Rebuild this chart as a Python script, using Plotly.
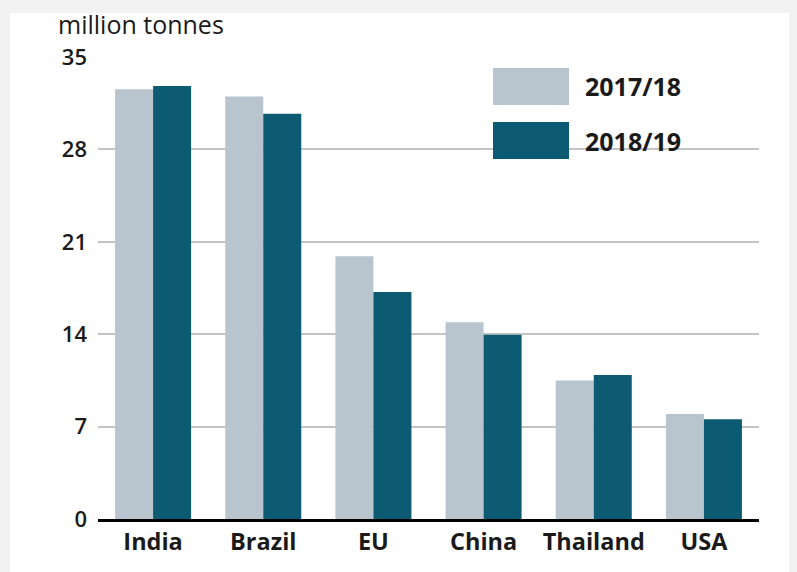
import plotly.graph_objects as go

categories = ["India", "Brazil", "EU", "China", "Thailand", "USA"]
series_names = ["2017/18", "2018/19"]
values_2017_18 = [32.55, 32.0, 19.9, 14.9, 10.5, 7.95]
values_2018_19 = [32.8, 30.7, 17.2, 13.95, 10.9, 7.55]
y_ticks = [0, 7, 14, 21, 28, 35]
colors = ["#b8c5ce", "#0d5b72"]

OFF = 8  # page body margin offset
W, H = 797, 572
# target plot area in screen pixels: x 98..759, y 57..519
L = 98 - OFF
T = 57 - OFF
R = W - (759 - OFF)
B = H - (519 - OFF)
pw, ph = W - L - R, H - T - B

def fx(px):
    return (px - OFF - L) / pw

def fy(py):
    return (H - B - (py - OFF)) / ph

font_main = "Open Sans"
txt = "#1a1a1a"

fig = go.Figure()
for name, vals, col in zip(series_names, [values_2017_18, values_2018_19], colors):
    fig.add_trace(go.Bar(x=categories, y=vals, name=name, marker=dict(color=col, line=dict(width=0)),
                         showlegend=False))

shapes = [
    dict(type="rect", xref="paper", yref="paper", x0=fx(10), x1=fx(W + 20), y0=fy(H + 20), y1=fy(13),
         fillcolor="white", line=dict(width=0), layer="below"),
]
annotations = [
    dict(text="million tonnes", xref="paper", yref="paper", x=fx(56), y=fy(24), xanchor="left",
         yanchor="middle", showarrow=False, font=dict(family=font_main, size=25, color=txt)),
]
legend_boxes = [(68, 105), (122, 159)]
for (y0, y1), name, col in zip(legend_boxes, series_names, colors):
    shapes.append(dict(type="rect", xref="paper", yref="paper", x0=fx(493), x1=fx(569), y0=fy(y1), y1=fy(y0),
                       fillcolor=col, line=dict(width=0), layer="above"))
    annotations.append(dict(text=name, xref="paper", yref="paper", x=fx(583), y=fy((y0 + y1) / 2),
                            xanchor="left", yanchor="middle", showarrow=False,
                            font=dict(family=font_main, size=25, color=txt, weight="bold")))

fig.update_layout(
    width=W, height=H,
    margin=dict(l=L, r=R, t=T, b=B, pad=0),
    paper_bgcolor="#f2f2f2",
    plot_bgcolor="white",
    barmode="group",
    bargap=0.31,
    bargroupgap=0,
    shapes=shapes,
    annotations=annotations,
    xaxis=dict(showgrid=False, showline=True, linecolor="black", linewidth=3,
               tickfont=dict(family=font_main, size=23.5, color=txt, weight="bold"),
               ticks="", ticklabelstandoff=0),
    yaxis=dict(range=[0, 35], tickvals=y_ticks, showgrid=True, gridcolor="#c4c4c4", gridwidth=2,
               zeroline=False, showline=False, ticks="", ticklabelstandoff=10,
               tickfont=dict(family=font_main, size=22, color=txt, weight=600)),
)

fig.write_html("out.html", post_script="document.body.style.background='#f2f2f2';")
